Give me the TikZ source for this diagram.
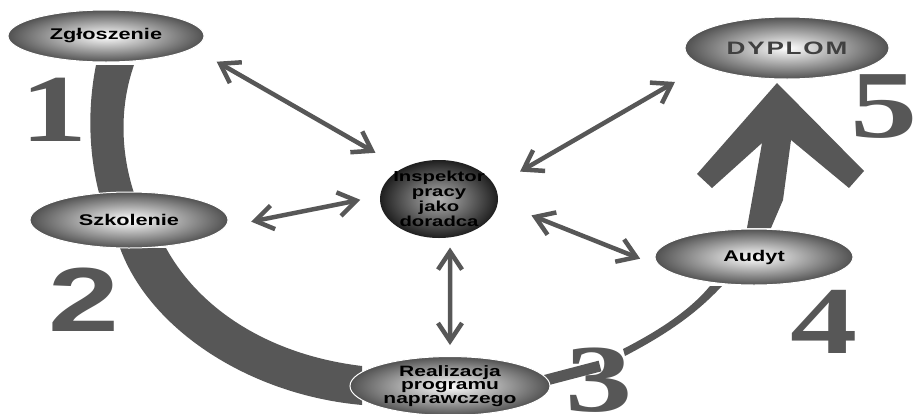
\documentclass[tikz,border=0pt]{standalone}
\usepackage{fontspec}
\usetikzlibrary{shapes.geometric,arrows.meta}
\newfontfamily\boxfont{Liberation Sans}[FakeStretch=1.4]
\newfontfamily\numfont{Liberation Serif}[FakeStretch=1.4]
\newfontfamily\dyfont{Liberation Sans}[FakeStretch=1.45,LetterSpace=10]
\definecolor{band}{HTML}{575757}
\begin{document}
\begin{tikzpicture}[x=1pt,y=-1pt,
    stage/.style={ellipse, draw=white, line width=1pt, inner sep=0pt, inner color=white, outer color=black!68},
    arr/.style={draw=band, line width=4.5pt, {Straight Barb[length=18pt,width=24pt]}-{Straight Barb[length=18pt,width=24pt]}},
    lbl/.style={font=\boxfont\bfseries\fontsize{15.5}{13.5}\selectfont, align=center},
    num/.style={font=\numfont\bfseries\fontsize{96}{96}\selectfont, text=band, inner sep=0pt}]
    \useasboundingbox (0,0) rectangle (916,413);

    % bands between the stages
    \fill[band] (96,65) .. controls (88,105) and (88,150) .. (99,193)
        -- (134,193) .. controls (120,150) and (120,105) .. (134,65) -- cycle;
    \fill[band] (120,248) .. controls (150,330) and (250,395) .. (362,405)
        -- (362,366) .. controls (270,355) and (200,310) .. (166,248) -- cycle;
    \draw[band, line width=11pt] (535,383) -- (600,366);
    \fill[band] (625,356) .. controls (665,335) and (695,315) .. (722,286)
        -- (710,286) .. controls (690,310) and (660,330) .. (623,349) -- cycle;
    \fill[band] (777,83) -- (864,171) -- (849,188) -- (791,140) -- (783,200) -- (771,228)
        -- (747,228) -- (752,200) -- (762,143) -- (712,188) -- (697,174) -- cycle;

    % stages
    \node[stage, lbl, minimum width=196pt, minimum height=52pt] (zg) at (106,36) {Zgłoszenie};
    \node[stage, lbl, minimum width=198pt, minimum height=56pt] (sz) at (129,220) {Szkolenie};
    \node[stage, lbl, font=\boxfont\bfseries\fontsize{15}{13.8}\selectfont, minimum width=200pt, minimum height=56pt] (re) at (450,386) {Realizacja\\programu\\naprawczego};
    \node[stage, lbl, minimum width=198pt, minimum height=56pt] (au) at (754,257) {Audyt};
    \node[stage, minimum width=204pt, minimum height=62pt, font=\dyfont\bfseries\fontsize{18}{18}\selectfont, text=black!75] (dy) at (787,48) {DYPLOM};
    \node[ellipse, inner xsep=-4pt, inner ysep=-1pt, minimum width=118pt, minimum height=78pt, inner color=black!30, outer color=black!88,
        font=\boxfont\bfseries\fontsize{14.5}{15}\selectfont, align=center] (insp) at (439,199) {Inspektor\\pracy\\jako\\doradca};

    % numbers
    \node[num] (n1) at (54,110) {1};
    \node[num, font=\boxfont\bfseries\fontsize{91}{91}\selectfont] (n2) at (84,300) {2};
    \node[num] (n3) at (599,380) {3};
    \node[num] (n4) at (824,322) {4};
    \node[num] (n5) at (884,107) {5};

    % links to the inspector
    \draw[arr, shorten <=27pt, shorten >=31pt] (zg.-8) -- (insp.140);
    \draw[arr, shorten <=26pt, shorten >=20pt] (sz.-4) -- (insp.177);
    \draw[arr, shorten <=29pt, shorten >=32pt] (insp.13) -- (dy.-168);
    \draw[arr, shorten <=36pt, shorten >=22pt] (insp.-3) -- (au.-174);
    \draw[arr, shorten <=10pt, shorten >=11pt] (insp.-74) -- (re.north);
\end{tikzpicture}
\end{document}
